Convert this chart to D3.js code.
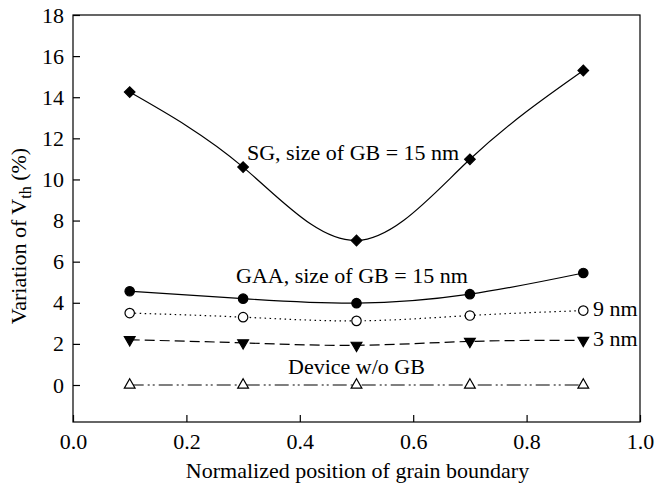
<!DOCTYPE html>
<html>
<head>
<meta charset="utf-8">
<script src="https://cdn.jsdelivr.net/npm/d3@7"></script>
</head>
<body style="margin:0; background:#fff">
<div id="chart"></div>
<script>
// data
var positions = [0.1, 0.3, 0.5, 0.7, 0.9];
var sg15  = [14.25, 10.6, 7.03, 10.98, 15.3];
var gaa15 = [4.56, 4.2, 3.98, 4.42, 5.45];
var gaa9  = [3.5, 3.3, 3.12, 3.38, 3.62];
var gaa3  = [2.2, 2.05, 1.93, 2.12, 2.17];
var noGB  = [0, 0, 0, 0, 0];
var xTicks = [0.0, 0.2, 0.4, 0.6, 0.8, 1.0];
var yTicks = [0, 2, 4, 6, 8, 10, 12, 14, 16, 18];

var FONT = "Liberation Serif", FS = 22;
var W = 656, H = 486;
var margin = {top: 15, right: 16, bottom: 64, left: 73};
var width = W - margin.left - margin.right,
    height = H - margin.top - margin.bottom;

var svg = d3.select("#chart").append("svg").attr("width", W).attr("height", H);
var g = svg.append("g").attr("transform", "translate(" + margin.left + "," + margin.top + ")");

var x = d3.scaleLinear().domain([0, 1]).range([0, width]);
var y = d3.scaleLinear().domain([-1.8, 18]).range([height, 0]);

// frame
g.append("rect").attr("width", width).attr("height", height)
  .attr("fill", "none").attr("stroke", "#000").attr("stroke-width", 1.2);

// axes, inward ticks
var xAxis = g.append("g").attr("transform", "translate(0," + height + ")")
  .call(d3.axisBottom(x).tickValues(xTicks).tickSizeInner(-7).tickSizeOuter(0).tickPadding(11).tickFormat(d3.format(".1f")));
var yAxis = g.append("g")
  .call(d3.axisLeft(y).tickValues(yTicks).tickSizeInner(-7).tickSizeOuter(0).tickPadding(9));
[xAxis, yAxis].forEach(function(a) {
  a.attr("font-family", FONT).attr("font-size", FS);
  a.select(".domain").remove();
  a.selectAll("line").attr("stroke", "#000").attr("stroke-width", 1.2);
  a.selectAll("text").attr("fill", "#000").attr("font-family", FONT).attr("font-size", FS);
});

var line = d3.line()
  .curve(d3.curveNatural)
  .x(function(d) { return x(d.x); })
  .y(function(d) { return y(d.y); });

function pts(vals) {
  return vals.map(function(v, i) { return {x: positions[i], y: v}; });
}

var series = [
  {vals: sg15,  dash: null,  marker: "diamond", fill: "#000"},
  {vals: gaa15, dash: null,  marker: "circle", fill: "#000"},
  {vals: gaa9,  dash: "1.5,3.5", marker: "circle", fill: "#fff"},
  {vals: gaa3,  dash: "10,5", marker: "triangleDown", fill: "#000"},
  {vals: noGB,  dash: "14,4,2,3,2,4", marker: "triangle", fill: "#fff"}
];

series.forEach(function(s) {
  g.append("path")
    .datum(pts(s.vals))
    .attr("fill", "none")
    .attr("stroke", "#000")
    .attr("stroke-width", 1.2)
    .attr("stroke-dasharray", s.dash)
    .attr("d", line);
});

var symbols = {
  diamond: d3.symbol().type(d3.symbolSquare).size(56),
  circle: d3.symbol().type(d3.symbolCircle).size(70),
  triangle: d3.symbol().type(d3.symbolTriangle).size(50),
  triangleDown: d3.symbol().type(d3.symbolTriangle).size(50)
};

series.forEach(function(s) {
  g.append("g").selectAll("path")
    .data(pts(s.vals))
    .enter().append("path")
    .attr("d", symbols[s.marker])
    .attr("transform", function(d) {
      var rot = s.marker == "diamond" ? 45 : (s.marker == "triangleDown" ? 180 : 0);
      return "translate(" + x(d.x) + "," + y(d.y) + ") rotate(" + rot + ")";
    })
    .attr("fill", s.fill)
    .attr("stroke", "#000")
    .attr("stroke-width", 1.2);
});

// in-plot labels
function label(tx, ty, str) {
  return g.append("text").attr("x", tx).attr("y", ty)
    .attr("font-family", FONT).attr("font-size", FS).text(str);
}
label(174, 145, "SG, size of GB = 15 nm");
label(163, 268, "GAA, size of GB = 15 nm");
label(520, 301, "9 nm");
label(520, 331, "3 nm");
label(215, 359, "Device w/o GB");

// axis titles
svg.append("text")
  .attr("x", margin.left + width / 2 + 1).attr("y", 478)
  .attr("text-anchor", "middle").attr("font-family", FONT).attr("font-size", FS)
  .text("Normalized position of grain boundary");

var yt = svg.append("text")
  .attr("transform", "translate(26," + 236 + ") rotate(-90)")
  .attr("text-anchor", "middle").attr("font-family", FONT).attr("font-size", FS);
yt.append("tspan").text("Variation of  V");
yt.append("tspan").attr("dy", 5).attr("font-size", 16).text("th");
yt.append("tspan").attr("dy", -5).text(" (%)");
</script>
</body>
</html>
